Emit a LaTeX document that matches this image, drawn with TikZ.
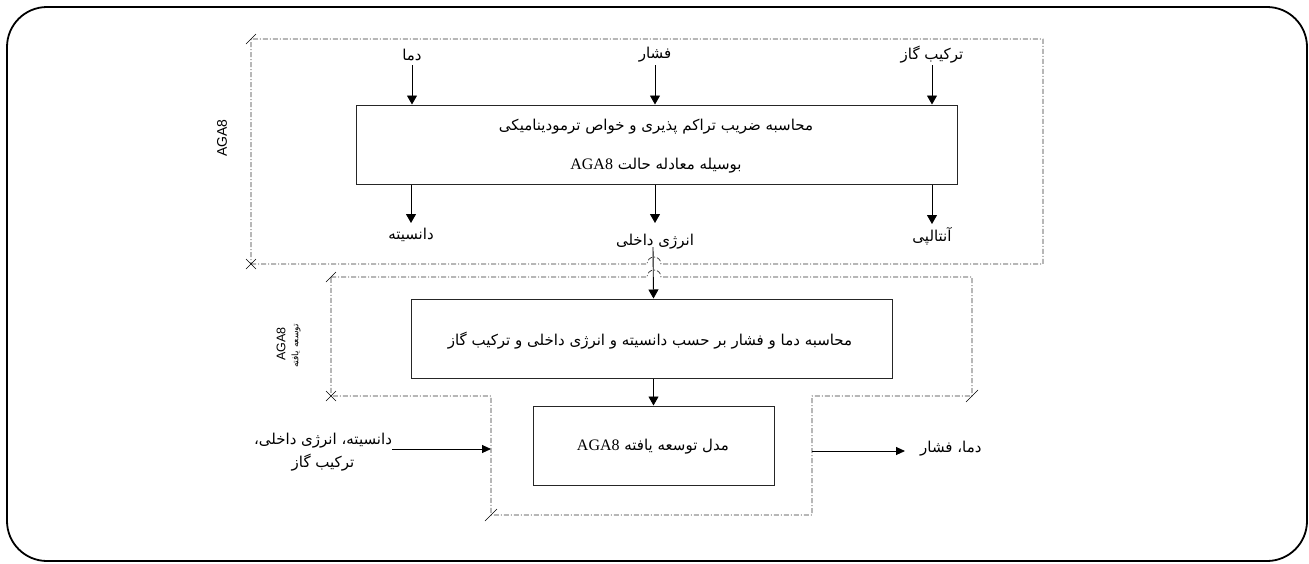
\documentclass[tikz,border=0pt]{standalone}
\usepackage{fontspec}
\setmainfont{Liberation Serif}
\newfontfamily\fa[Script=Arabic]{DejaVu Sans}
\newfontfamily\arialf{Liberation Sans}
\TeXXeTstate=1
\usetikzlibrary{arrows.meta}
\tikzset{
  frame/.style={line width=1.8pt, rounded corners=40pt},
  dd/.style={line width=0.7pt, black!80, dash pattern=on 5pt off 2pt on 1pt off 2pt},
  cmark/.style={line width=0.6pt},
  procbox/.style={draw, line width=1pt, black!85, fill=white, inner sep=0pt},
  lab/.style={inner sep=0pt, font=\fa\fontsize{15}{18}\selectfont},
  arr/.style={line width=0.9pt, -{Triangle[length=9pt,width=10pt]}},
  harr/.style={line width=0.9pt, -{Triangle[length=9pt,width=8pt]}},
}
\begin{document}
\begin{tikzpicture}[x=1pt,y=-1pt]
\useasboundingbox (0,0) rectangle (1309,563);
% outer rounded frame
\draw[frame] (7,7) rectangle (1307,561);

% dash-dot region 1 (AGA8)
\draw[dd] (251,264) -- (647,264) arc[start angle=180,end angle=360,radius=7] -- (1043,264) -- (1043,39) -- (251,39) -- cycle;
% dash-dot region 2 (extended AGA8)
\draw[dd] (331,277) -- (647,277) arc[start angle=180,end angle=360,radius=7] -- (972,277) -- (972,396) -- (812,396) -- (812,515) -- (491,515) -- (491,396) -- (331,396) -- cycle;

% corner marks
\draw[cmark] (246,44) -- (256,34);
\draw[cmark] (326,282) -- (336,272);
\draw[cmark] (966,402) -- (978,390);
\draw[cmark] (485,521) -- (497,509);
\draw[cmark] (246,259) -- (256,269) (246,269) -- (256,259);
\draw[cmark] (326,391) -- (336,401) (326,401) -- (336,391);

% side labels
\node[rotate=90, inner sep=0pt, font=\arialf\fontsize{14}{16}\selectfont] (lagaA) at (222,138) {AGA8};
\node[rotate=90, inner sep=0pt, font=\arialf\fontsize{12.5}{14}\selectfont] (lagaB) at (281,344) {AGA8};
\node[rotate=90, inner sep=0pt, font=\fa\fontsize{9}{10}\selectfont] (ltose) at (296,346) {\beginR توسعه یافته\endR};

% main boxes
\node[procbox, minimum width=601pt, minimum height=79pt] (calc) at (656.5,144.5) {};
\node[lab] (calcA) at (656,127) {\beginR محاسبه ضریب تراکم پذیری و خواص ترمودینامیکی\endR};
\node[lab] (calcB) at (656,166) {\beginR بوسیله معادله حالت \beginL{\rmfamily\fontsize{16}{18}\selectfont AGA8}\endL\endR};

\node[procbox, minimum width=481pt, minimum height=79pt] (calc2) at (651.5,338.5) {};
\node[lab] (calc2t) at (650,341) {\beginR محاسبه دما و فشار بر حسب دانسیته و انرژی داخلی و ترکیب گاز\endR};

\node[procbox, minimum width=241pt, minimum height=79pt] (model) at (653.5,445.5) {};
\node[lab] (modelt) at (653,447) {\beginR مدل توسعه یافته \beginL{\rmfamily\fontsize{16}{18}\selectfont AGA8}\endL\endR};

% input labels
\node[lab] (idama) at (412,55) {\beginR دما\endR};
\node[lab] (ifeshar) at (655,55) {\beginR فشار\endR};
\node[lab] (igas) at (932,55) {\beginR ترکیب گاز\endR};
% output labels
\node[lab] (odens) at (411,235) {\beginR دانسیته\endR};
\node[lab] (oenergy) at (655,242) {\beginR انرژی داخلی\endR};
\node[lab] (oenth) at (932,236) {\beginR آنتالپی\endR};

% inputs and outputs of extended model
\node[lab, align=center] (inlab) at (323,452) {\beginR دانسیته، انرژی داخلی،\endR\\[5pt]\beginR ترکیب گاز\endR};
\coordinate (inend) at (491,449);
\node[lab, anchor=west] (outlab) at (920,449) {\beginR دما، فشار\endR};
\coordinate (outstart) at (812,451);

% connectors
\draw[arr] ([yshift=-10pt]idama.center) -- (idama.center |- calc.north);
\draw[arr] ([yshift=-10pt]ifeshar.center) -- (ifeshar.center |- calc.north);
\draw[arr] ([yshift=-10pt]igas.center) -- (igas.center |- calc.north);
\draw[arr] (calc.south -| odens.center) -- ([yshift=12pt]odens.center);
\draw[arr] (calc.south -| oenth.center) -- ([yshift=12pt]oenth.center);
\draw[arr] (calc.south -| oenergy.center) -- ([yshift=19pt]oenergy.center);
\draw[arr] ([xshift=-2pt,yshift=-5pt]oenergy.center) -- (calc2.north -| model.north);
\draw[arr] (calc2.south -| model.north) -- (model.north);
\draw[harr] (inlab.east |- inend) -- (inend);
\draw[harr] (outstart) -- ([xshift=-15pt]outlab.west |- outstart);
\end{tikzpicture}
\end{document}
